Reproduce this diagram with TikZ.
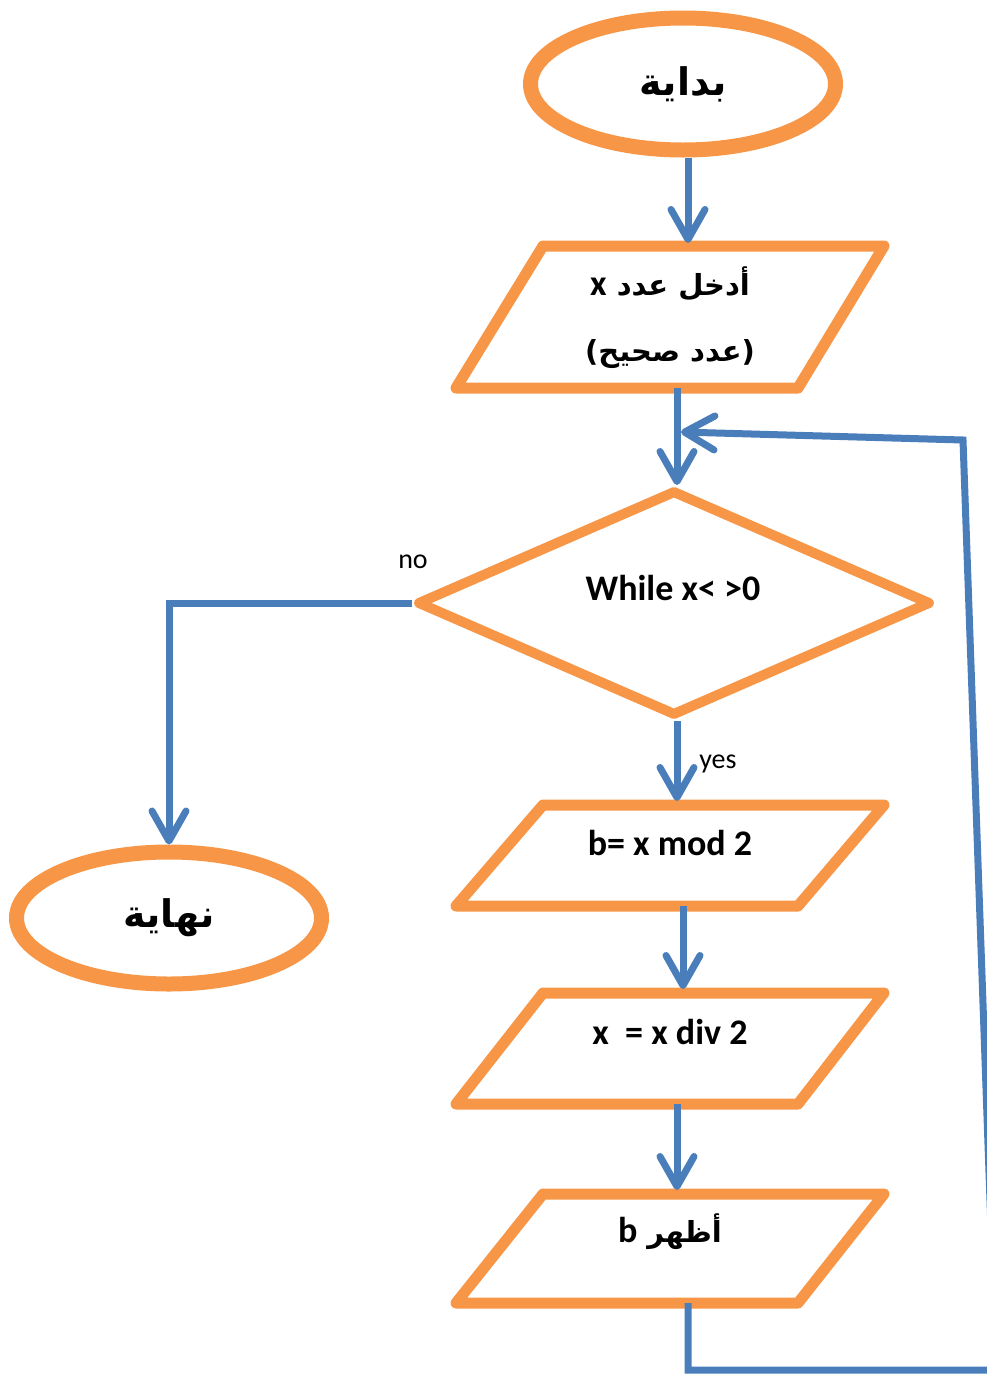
\documentclass[tikz,border=0pt]{standalone}
\usepackage{fontspec}
\setmainfont{Carlito}
\newfontfamily\arabicfont[Script=Arabic]{DejaVu Sans}
\TeXXeTstate=1
\usetikzlibrary{shapes.geometric,arrows.meta}

\definecolor{boxorange}{HTML}{F79646}
\definecolor{flowblue}{HTML}{4A7EBB}

\newcommand{\latinbold}[1]{{\normalfont\bfseries\fontsize{36}{40}\selectfont #1}}

\tikzset{
  terminal/.style={ellipse, draw=boxorange, line width=15pt, inner sep=0pt,
    minimum width=305pt, minimum height=132pt,
    font=\arabicfont\bfseries\fontsize{38}{46}\selectfont},
  decision/.style={diamond, draw=boxorange, line width=10pt, line join=round,
    inner sep=0pt, minimum width=514pt, minimum height=226pt},
  iobox/.style={draw=boxorange, line width=11pt, line join=round},
  boxtext/.style={font=\bfseries\fontsize{36}{40}\selectfont},
  artext/.style={font=\arabicfont\bfseries\fontsize{29}{36}\selectfont},
  lbl/.style={font=\fontsize{28}{32}\selectfont},
  flow/.style={draw=flowblue, line width=7pt,
    -{Straight Barb[length=30pt, width=34pt, round]}}
}

\begin{document}
\begin{tikzpicture}[x=1pt, y=-1pt]
\useasboundingbox (0,0) rectangle (986,1374);
% Start / end
    \node[terminal] (start) at (683,84) {\beginR بداية\endR};
    \node[terminal] (stop) at (169,918) {\beginR نهاية\endR};
% Input box
    \draw[iobox] (543,246) -- (884,246) -- (798,388) -- (456,388) -- cycle;
    \node[artext] (in1) at (670,284) {\beginR أدخل عدد \latinbold{x}\endR};
    \node[artext] (in2) at (670,354) {\beginR(عدد صحيح)\endR};
    \coordinate (inTop) at (688,243);
    \coordinate (inBot) at (677,388);
% Loop test
    \node[decision] (loop) at (674,603) {};
    \node[boxtext] (cond) at (673,588) {While x< >0};
    \node[lbl] (noLbl) at (413,562) {no};
    \node[lbl] (yesLbl) at (718,764) {yes};
% Loop body
    \draw[iobox] (543,805) -- (884,805) -- (798,906) -- (456,906) -- cycle;
    \node[boxtext] (mod) at (670,843) {b= x mod 2};
    \coordinate (modTop) at (677,801);
    \coordinate (modBot) at (683,906);
    \draw[iobox] (543,993) -- (884,993) -- (798,1104) -- (456,1104) -- cycle;
    \node[boxtext] (div) at (670,1032) {x\ \ = x div 2};
    \coordinate (divTop) at (683,989);
    \coordinate (divBot) at (677,1104);
    \draw[iobox] (543,1194) -- (884,1194) -- (798,1303) -- (456,1303) -- cycle;
    \node[artext] (out) at (670,1232) {\beginR أظهر \latinbold{b}\endR};
    \coordinate (outTop) at (677,1190);
    \coordinate (outBot) at (688,1303);
% Back edge
    \coordinate (b1) at (688,1370);
    \coordinate (b2) at (996,1370);
    \coordinate (b3) at (963,440);
    \coordinate (join) at (681,432);
% Connectors
    \draw[flow] (start.south -| inTop) -- (inTop);
    \draw[flow] (inBot) -- (loop.north -| inBot);
    \draw[flow] (loop.south -| modTop) -- (modTop);
    \draw[flow] (modBot) -- (divTop);
    \draw[flow] (divBot) -- (outTop);
    \draw[flow] (loop.west) -| (stop.north);
    \draw[flow] (outBot) -- (b1) -- (b2) -- (b3) -- (join);
\end{tikzpicture}
\end{document}
